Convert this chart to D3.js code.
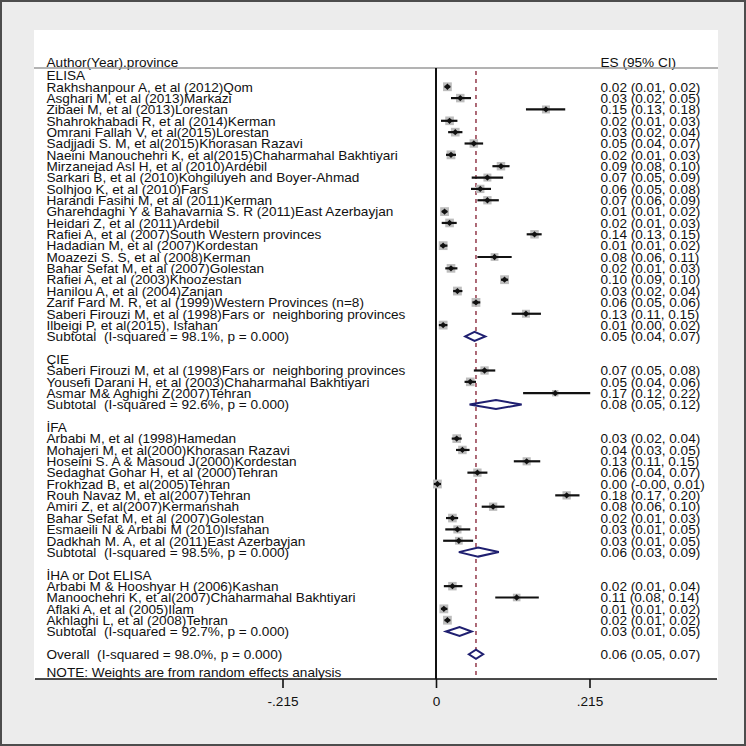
<!DOCTYPE html>
<html lang="en">
<head>
    <meta charset="UTF-8">
    <title>Forest plot</title>
    <style>
        body { margin: 0; background: #fff; }
        svg text { font-family: "Liberation Sans", Arial, sans-serif; font-size: 13.6px; fill: #111; white-space: pre; }
    </style>
</head>
<body>
    <svg id="chart" width="746" height="746"></svg>

    <script src="https://d3js.org/d3.v7.min.js"></script>
    <script>
        // ---- data ----
        const groupNames = ["ELISA", "ÇIE", "İFA", "İHA or Dot ELISA"];

        const studyLabels = [
            "Rakhshanpour A, et al (2012)Qom",
            "Asghari M, et al (2013)Markazi",
            "Zibaei M, et al (2013)Lorestan",
            "Shahrokhabadi R, et al (2014)Kerman",
            "Omrani Fallah V, et al(2015)Lorestan",
            "Sadjjadi S. M, et al(2015)Khorasan Razavi",
            "Naeini Manouchehri K, et al(2015)Chaharmahal Bakhtiyari",
            "Mirzanejad Asl H, et al (2010)Ardebil",
            "Sarkari B, et al (2010)Kohgiluyeh and Boyer-Ahmad",
            "Solhjoo K, et al (2010)Fars",
            "Harandi Fasihi M, et al (2011)Kerman",
            "Gharehdaghi Y & Bahavarnia S. R (2011)East Azerbayjan",
            "Heidari Z, et al (2011)Ardebil",
            "Rafiei A, et al (2007)South Western provinces",
            "Hadadian M, et al (2007)Kordestan",
            "Moazezi S. S, et al (2008)Kerman",
            "Bahar Sefat M, et al (2007)Golestan",
            "Rafiei A, et al (2003)Khoozestan",
            "Hanilou A, et al (2004)Zanjan",
            "Zarif Fard M. R, et al (1999)Western Provinces (n=8)",
            "Saberi Firouzi M, et al (1998)Fars or  neighboring provinces",
            "Ilbeigi P, et al(2015), Isfahan",
            "Saberi Firouzi M, et al (1998)Fars or  neighboring provinces",
            "Yousefi Darani H, et al (2003)Chaharmahal Bakhtiyari",
            "Asmar M& Aghighi Z(2007)Tehran",
            "Arbabi M, et al (1998)Hamedan",
            "Mohajeri M, et al(2000)Khorasan Razavi",
            "Hoseini S. A & Masoud J(2000)Kordestan",
            "Sedaghat Gohar H, et al (2000)Tehran",
            "Frokhzad B, et al(2005)Tehran",
            "Rouh Navaz M, et al(2007)Tehran",
            "Amiri Z, et al(2007)Kermanshah",
            "Bahar Sefat M, et al (2007)Golestan",
            "Esmaeili N & Arbabi M (2010)Isfahan",
            "Dadkhah M. A, et al (2011)East Azerbayjan",
            "Arbabi M & Hooshyar H (2006)Kashan",
            "Manoochehri K, et al(2007)Chaharmahal Bakhtiyari",
            "Aflaki A, et al (2005)Ilam",
            "Akhlaghi L, et al (2008)Tehran"
        ];
        const studyGroup = [
            0,0,0,0,0,0,0,0,0,0,0,0,0,0,0,0,0,0,0,0,0,0,
            1,1,1,
            2,2,2,2,2,2,2,2,2,2,
            3,3,3,3
        ];
        const studyES = [
            0.016, 0.034, 0.154, 0.019, 0.027, 0.053, 0.021, 0.091, 0.072, 0.062, 0.072,
            0.012, 0.019, 0.138, 0.010, 0.082, 0.021, 0.096, 0.030, 0.056, 0.126, 0.010,
            0.068, 0.048, 0.167,
            0.029, 0.037, 0.127, 0.058, 0.002, 0.183, 0.080, 0.023, 0.030, 0.032,
            0.023, 0.113, 0.011, 0.016
        ];
        const studyLo = [
            0.012, 0.021, 0.126, 0.007, 0.017, 0.040, 0.014, 0.079, 0.050, 0.049, 0.058,
            0.008, 0.008, 0.127, 0.006, 0.058, 0.013, 0.091, 0.024, 0.051, 0.106, 0.004,
            0.053, 0.040, 0.122,
            0.022, 0.028, 0.109, 0.044, -0.003, 0.167, 0.064, 0.014, 0.013, 0.010,
            0.011, 0.083, 0.007, 0.012
        ];
        const studyHi = [
            0.020, 0.049, 0.181, 0.030, 0.037, 0.066, 0.028, 0.103, 0.094, 0.077, 0.088,
            0.016, 0.029, 0.148, 0.016, 0.106, 0.030, 0.101, 0.037, 0.062, 0.147, 0.016,
            0.083, 0.056, 0.216,
            0.036, 0.047, 0.146, 0.072, 0.007, 0.201, 0.096, 0.031, 0.048, 0.052,
            0.037, 0.144, 0.016, 0.020
        ];
        const studyWeight = [
            2.8, 2.6, 2.3, 2.7, 2.7, 2.6, 2.8, 2.6, 2.3, 2.5, 2.5,
            2.8, 2.7, 2.6, 2.8, 2.2, 2.7, 2.8, 2.8, 2.8, 2.3, 2.8,
            2.5, 2.7, 1.5,
            2.7, 2.6, 2.4, 2.5, 2.8, 2.5, 2.5, 2.7, 2.4, 2.2,
            2.6, 2.1, 2.8, 2.8
        ];

        const subtotalI2 = ["98.1%", "92.6%", "98.5%", "92.7%"];
        const subtotalES = [0.054, 0.084, 0.059, 0.033];
        const subtotalLo = [0.041, 0.047, 0.032, 0.014];
        const subtotalHi = [0.069, 0.120, 0.088, 0.050];

        const overallI2 = "98.0%";
        const overallES = 0.056, overallLo = 0.046, overallHi = 0.066;

        const tickValues = [-0.215, 0, 0.215];
        const tickLabels = ["-.215", "0", ".215"];

        // ---- build row list ----
        const rows = [];
        let r = 0;
        groupNames.forEach((g, gi) => {
            rows.push({ type: "group", row: r++, label: g });
            studyLabels.forEach((lab, i) => {
                if (studyGroup[i] !== gi) return;
                rows.push({ type: "study", row: r++, label: lab,
                    es: studyES[i], lo: studyLo[i], hi: studyHi[i], w: studyWeight[i] });
            });
            rows.push({ type: "sub", row: r++,
                label: "Subtotal  (I-squared = " + subtotalI2[gi] + ", p = 0.000)",
                es: subtotalES[gi], lo: subtotalLo[gi], hi: subtotalHi[gi] });
            r++; // blank row
        });
        rows.push({ type: "overall", row: r++,
            label: "Overall  (I-squared = " + overallI2 + ", p = 0.000)",
            es: overallES, lo: overallLo, hi: overallHi });
        const noteRow = r + 0.6;

        // ---- layout ----
        const W = 746, H = 746;
        const panel = { left: 34, top: 30, right: 718, bottom: 679 };
        const labelX = 46.5, valueX = 600.5;

        const x = d3.scaleLinear().domain([-0.215, 0.215]).range([282.5, 589.5]);
        const y = d3.scaleLinear().domain([0, 52]).range([75.4, 665.6]);
        const box = d3.scaleSqrt().domain([0, 2.8]).range([0, 8.8]);

        const fmt = v => (v < 0 ? "-" : "") + Math.abs(v).toFixed(2);
        const ciText = d => fmt(d.es) + " (" + fmt(d.lo) + ", " + fmt(d.hi) + ")";

        const svg = d3.select("#chart");

        // background + frame
        svg.append("rect").attr("x", 0).attr("y", 0).attr("width", W).attr("height", H)
            .attr("fill", "#ececec");
        svg.append("rect").attr("x", panel.left).attr("y", panel.top)
            .attr("width", panel.right - panel.left).attr("height", panel.bottom - panel.top)
            .attr("fill", "#fff");
        svg.append("rect").attr("x", 1).attr("y", 1).attr("width", W - 2).attr("height", H - 2)
            .attr("fill", "none").attr("stroke", "#4d4d4d").attr("stroke-width", 2);

        // header
        svg.append("text").attr("x", labelX).attr("y", 62).attr("dy", "0.35em")
            .text("Author(Year).province");
        svg.append("text").attr("x", valueX).attr("y", 62).attr("dy", "0.35em")
            .text("ES (95% CI)");
        svg.append("line").attr("x1", panel.left).attr("x2", panel.right)
            .attr("y1", 68).attr("y2", 68).attr("stroke", "#9a9a9a").attr("stroke-width", 1.5);

        // reference lines
        svg.append("line").attr("x1", x(overallES)).attr("x2", x(overallES))
            .attr("y1", 71).attr("y2", panel.bottom)
            .attr("stroke", "#93394a").attr("stroke-width", 1.5).attr("stroke-dasharray", "4,4");
        svg.append("line").attr("x1", x(0)).attr("x2", x(0))
            .attr("y1", 68).attr("y2", panel.bottom)
            .attr("stroke", "#111").attr("stroke-width", 2);

        // left labels
        svg.append("g").selectAll("text").data(rows).join("text")
            .attr("x", labelX).attr("y", d => y(d.row)).attr("dy", "0.35em")
            .text(d => d.label);
        svg.append("text").attr("x", labelX).attr("y", y(noteRow)).attr("dy", "0.35em")
            .text("NOTE: Weights are from random effects analysis");

        // right ES text
        svg.append("g").selectAll("text").data(rows.filter(d => d.type !== "group")).join("text")
            .attr("x", valueX).attr("y", d => y(d.row)).attr("dy", "0.35em")
            .text(ciText);

        // studies
        const studies = rows.filter(d => d.type === "study");
        const gS = svg.append("g");
        gS.selectAll("rect").data(studies).join("rect")
            .attr("x", d => x(d.es) - box(d.w) / 2).attr("y", d => y(d.row) - box(d.w) / 2)
            .attr("width", d => box(d.w)).attr("height", d => box(d.w))
            .attr("fill", "#bdbdbd");
        gS.selectAll("line").data(studies).join("line")
            .attr("x1", d => x(d.lo)).attr("x2", d => x(d.hi))
            .attr("y1", d => y(d.row)).attr("y2", d => y(d.row))
            .attr("stroke", "#111").attr("stroke-width", 2.2);
        gS.selectAll("path").data(studies).join("path")
            .attr("transform", d => `translate(${x(d.es)},${y(d.row)}) rotate(45)`)
            .attr("d", d3.symbol(d3.symbolSquare, 20)())
            .attr("fill", "#111");

        // pooled diamonds
        const pooled = rows.filter(d => d.type === "sub" || d.type === "overall");
        svg.append("g").selectAll("path").data(pooled).join("path")
            .attr("d", d => {
                const yy = y(d.row), h = 4.5;
                return `M${x(d.lo)},${yy}L${x(d.es)},${yy - h}L${x(d.hi)},${yy}L${x(d.es)},${yy + h}Z`;
            })
            .attr("fill", "#fff").attr("stroke", "#1f1f70").attr("stroke-width", 2);

        // axis
        svg.append("line").attr("x1", panel.left + 1).attr("x2", panel.right - 1)
            .attr("y1", panel.bottom).attr("y2", panel.bottom)
            .attr("stroke", "#111").attr("stroke-width", 1.6);
        const axis = d3.axisBottom(x).tickValues(tickValues)
            .tickFormat((d, i) => tickLabels[i]).tickSize(9).tickPadding(8);
        const gA = svg.append("g").attr("transform", `translate(0,${panel.bottom})`).call(axis);
        gA.select(".domain").remove();
        gA.selectAll(".tick line").attr("stroke", "#111").attr("stroke-width", 1.6);
        gA.selectAll(".tick text").attr("font-family", null).attr("font-size", null)
            .style("font-size", "13.6px").attr("fill", "#111");
    </script>
</body>
</html>
